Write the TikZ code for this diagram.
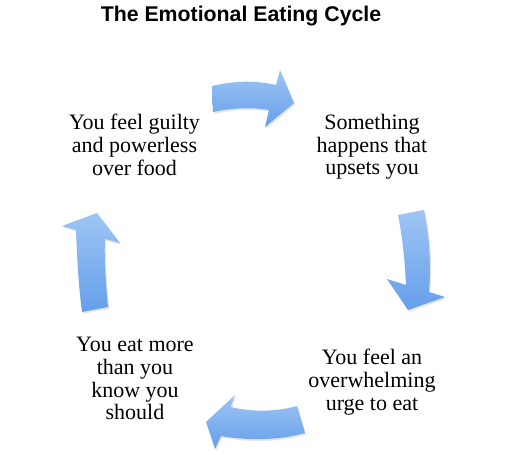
\documentclass[tikz,border=0pt]{standalone}
\usepackage{fontspec}
\setmainfont{Liberation Serif}
\newfontfamily\titlefont{Liberation Sans}
\usetikzlibrary{shadows}
\definecolor{arrlight}{HTML}{9EC5F4}
\definecolor{arrdark}{HTML}{659FEA}
\tikzset{
  cyclearrow/.style={top color=arrlight, bottom color=arrdark, draw=none,
    drop shadow={opacity=0.2, shadow xshift=1.2pt, shadow yshift=-1.8pt}},
  stagetext/.style={align=center, inner sep=0pt, anchor=north,
    font=\fontsize{22}{22.7}\selectfont},
  titletext/.style={inner sep=0pt, anchor=base,
    font=\titlefont\bfseries\fontsize{21.3}{24}\selectfont}
}
\begin{document}
\begin{tikzpicture}[x=1pt,y=-1pt]
\useasboundingbox[fill=white] (0,0) rectangle (507,455);

\node[titletext] (title) at (241,21.7) {The Emotional Eating Cycle};

\node[stagetext] (guilty) at (134.5,114) {You feel guilty\\and powerless\\over food};
\node[stagetext] (upset) at (372,114) {Something\\happens that\\upsets you};
\node[stagetext] (urge) at (372,349) {You feel an\\overwhelming\\urge to eat};
\node[stagetext] (eat) at (135,337) {You eat more\\than you\\know you\\should};

% top arrow (pointing right)
\path[cyclearrow] (212,86) .. controls (233,81) and (255,80) .. (276,85)
  -- (280,70) -- (294,103) -- (265,127) -- (269,110)
  .. controls (250,107) and (232,108) .. (213,112) -- cycle;

% right arrow (pointing down)
\path[cyclearrow] (398,215) -- (424,210)
  .. controls (430,240) and (431,265) .. (429,292)
  -- (445,297) -- (408,310) -- (387,279) -- (406,285)
  .. controls (405,260) and (402,235) .. (398,215) -- cycle;

% bottom arrow (pointing left)
\path[cyclearrow] (297,406) -- (305,433)
  .. controls (280,440) and (250,441) .. (221,436)
  -- (215,449) -- (206,422) -- (235,395) -- (230.6,407)
  .. controls (252,412) and (275,412) .. (297,406) -- cycle;

% left arrow (pointing up)
\path[cyclearrow] (82,312) -- (108,307)
  .. controls (106,285) and (104,260) .. (105,239)
  -- (120,243) -- (97,213) -- (62,226) -- (76,230)
  .. controls (77,260) and (79,290) .. (82,312) -- cycle;
\end{tikzpicture}
\end{document}
